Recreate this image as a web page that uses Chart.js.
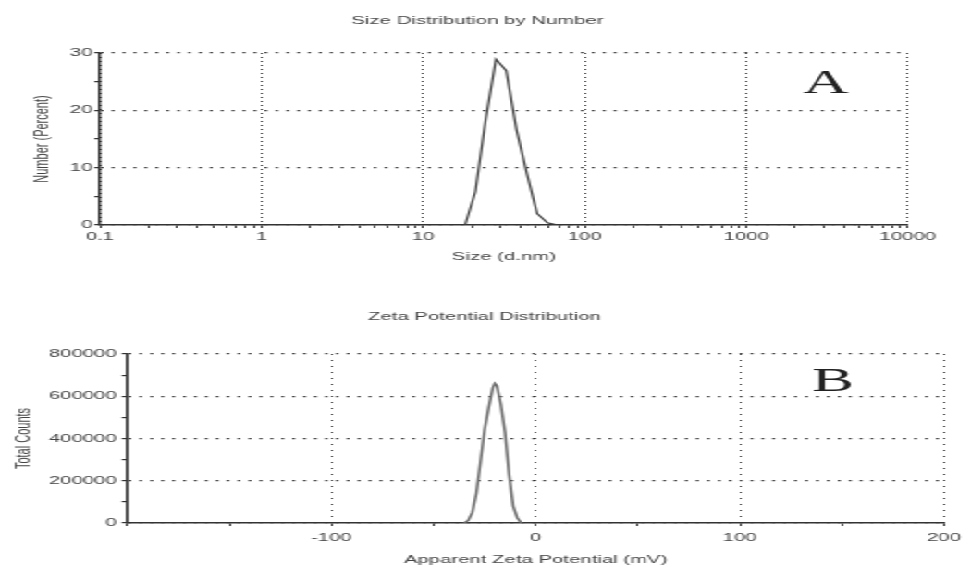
<!DOCTYPE html>
<html>
<head>
<meta charset="utf-8">
<title>Size and Zeta Potential Distribution</title>
<script src="https://cdn.jsdelivr.net/npm/chart.js@4.4.1/dist/chart.umd.min.js"></script>
<style>
    html, body { margin: 0; padding: 0; background: #fff; overflow: hidden; }
    /* the instrument printout is wide and squat, so stretch the drawing sideways */
    #wrap { position: absolute; left: 0; top: 0; width: 525px; height: 569px; transform: scaleX(1.8495); transform-origin: 0 0; }
    #sizeChart { position: absolute; left: 0; top: 0; }
    #zetaChart { position: absolute; left: 0; top: 290px; }
</style>
</head>
<body>
<div id="wrap">
    <canvas id="sizeChart" width="525" height="290"></canvas>
    <canvas id="zetaChart" width="525" height="279"></canvas>
</div>
<script>
// Size distribution by number
const sizeNm = [18.17, 21.04, 24.36, 28.21, 32.67, 37.84, 43.82, 50.75, 58.77, 68.06];
const numberPct = [0, 5.8, 18.3, 28.9, 26.9, 16.6, 9.0, 2.0, 0.4, 0];
const sizeMajorTicks = [0.1, 1, 10, 100, 1000, 10000];
const sizeYLabels = [0, 10, 20, 30];

// Zeta potential distribution
const zetaMv = [-35, -33, -31, -29, -27, -25, -23, -21, -20, -19, -17, -15, -13, -11, -9, -7];
const zetaCounts = [0, 12000, 50000, 141000, 290000, 440000, 545000, 640000, 661000, 650000, 560000, 430000, 230000, 80000, 25000, 0];
const zetaXLabels = [-100, 0, 100, 200];
const zetaYLabels = [0, 200000, 400000, 600000, 800000];

Chart.defaults.font.family = '"Liberation Sans", Arial, sans-serif';
Chart.defaults.font.size = 11;
Chart.defaults.color = '#444';

// log axis: a tick at every 1..9 step of each decade
const sizeTickValues = [];
sizeMajorTicks.forEach((m, i) => {
    if (i === sizeMajorTicks.length - 1) {
        sizeTickValues.push(m);
        return;
    }
    for (let k = 1; k <= 9; k++) {
        sizeTickValues.push(parseFloat((m * k).toPrecision(6)));
    }
});

// big serif letter in the corner of each panel
const panelLetter = {
    id: 'panelLetter',
    afterDraw(chart, args, opts) {
        const ctx = chart.ctx;
        const x = chart.scales.x.getPixelForValue(opts.x);
        const y = chart.scales.y.getPixelForValue(opts.y);
        ctx.save();
        ctx.font = '34px "Liberation Serif", "Times New Roman", serif';
        ctx.fillStyle = '#222';
        ctx.textAlign = 'center';
        ctx.textBaseline = 'alphabetic';
        ctx.fillText(opts.text, x, y);
        ctx.restore();
    }
};

function gridColor(labels) {
    return (c) => (c.tick && labels.includes(c.tick.value)) ? '#333' : 'rgba(0,0,0,0)';
}

new Chart(document.getElementById('sizeChart'), {
    type: 'line',
    data: {
        datasets: [{
            data: sizeNm.map((s, i) => ({x: s, y: numberPct[i]})),
            borderColor: '#3a3a3a',
            borderWidth: 1.2,
            pointRadius: 0,
            tension: 0
        }]
    },
    plugins: [panelLetter],
    options: {
        responsive: false,
        animation: false,
        layout: {padding: {left: 25.5, right: 34.1, top: 0, bottom: 0}},
        plugins: {
            legend: {display: false},
            tooltip: {enabled: false},
            title: {
                display: true,
                text: 'Size Distribution by Number',
                color: '#444',
                font: {size: 11, weight: 'normal'},
                padding: {top: 14.4, bottom: 25.4}
            },
            panelLetter: {text: 'A', x: 3100, y: 23}
        },
        scales: {
            x: {
                type: 'logarithmic',
                min: 0.1,
                max: 10000,
                afterFit: (s) => { s.height = 65; },
                afterBuildTicks: (s) => { s.ticks = sizeTickValues.map(v => ({value: v})); },
                ticks: {
                    autoSkip: false,
                    maxRotation: 0,
                    padding: 2.4,
                    callback: (v) => sizeMajorTicks.includes(v) ? String(v) : ''
                },
                grid: {color: gridColor(sizeMajorTicks), lineWidth: 1, tickLength: 3, tickColor: '#333'},
                border: {color: '#333', width: 1.5, dash: [1, 3]},
                title: {display: true, text: 'Size (d.nm)', padding: {top: 0, bottom: 26.4}}
            },
            y: {
                min: 0,
                max: 30,
                afterFit: (s) => { s.width = 28.57; },
                ticks: {
                    stepSize: 5,
                    autoSkip: false,
                    padding: 1,
                    callback: (v) => sizeYLabels.includes(v) ? v : ''
                },
                grid: {color: gridColor(sizeYLabels), lineWidth: 1.2, tickLength: 3, tickColor: '#333'},
                border: {color: '#333', width: 1.5, dash: [1.5, 4.4]},
                title: {display: true, text: 'Number (Percent)', padding: {top: -8.85, bottom: 0}}
            }
        }
    }
});

new Chart(document.getElementById('zetaChart'), {
    type: 'line',
    data: {
        datasets: [{
            data: zetaMv.map((m, i) => ({x: m, y: zetaCounts[i]})),
            borderColor: '#6a6a6a',
            borderWidth: 1.5,
            pointRadius: 0,
            tension: 0
        }]
    },
    plugins: [panelLetter],
    options: {
        responsive: false,
        animation: false,
        layout: {padding: {left: 8.7, right: 9.7, top: 0, bottom: 0}},
        plugins: {
            legend: {display: false},
            tooltip: {enabled: false},
            title: {
                display: true,
                text: 'Zeta Potential Distribution',
                color: '#444',
                font: {size: 11, weight: 'normal'},
                padding: {top: 20.4, bottom: 30.4}
            },
            panelLetter: {text: 'B', x: 145.5, y: 626000}
        },
        scales: {
            x: {
                type: 'linear',
                min: -200,
                max: 200,
                afterFit: (s) => { s.height = 46; },
                ticks: {
                    stepSize: 50,
                    autoSkip: false,
                    maxRotation: 0,
                    padding: 5.4,
                    callback: (v) => zetaXLabels.includes(v) ? v : ''
                },
                grid: {color: gridColor(zetaXLabels), lineWidth: 1, tickLength: 3, tickColor: '#333'},
                border: {color: '#333', width: 1.5, dash: [1, 5]},
                title: {display: true, text: 'Apparent Zeta Potential (mV)', padding: {top: 0, bottom: 2.4}}
            },
            y: {
                min: 0,
                max: 800000,
                afterFit: (s) => { s.width = 60.1; },
                ticks: {
                    stepSize: 100000,
                    autoSkip: false,
                    padding: 2.7,
                    callback: (v) => zetaYLabels.includes(v) ? v : ''
                },
                grid: {color: gridColor(zetaYLabels), lineWidth: 1.2, tickLength: 3, tickColor: '#333'},
                border: {color: '#333', width: 1.5, dash: [1.5, 4.4]},
                title: {display: true, text: 'Total Counts', padding: {top: -2.8, bottom: 0}}
            }
        }
    }
});
</script>
</body>
</html>
